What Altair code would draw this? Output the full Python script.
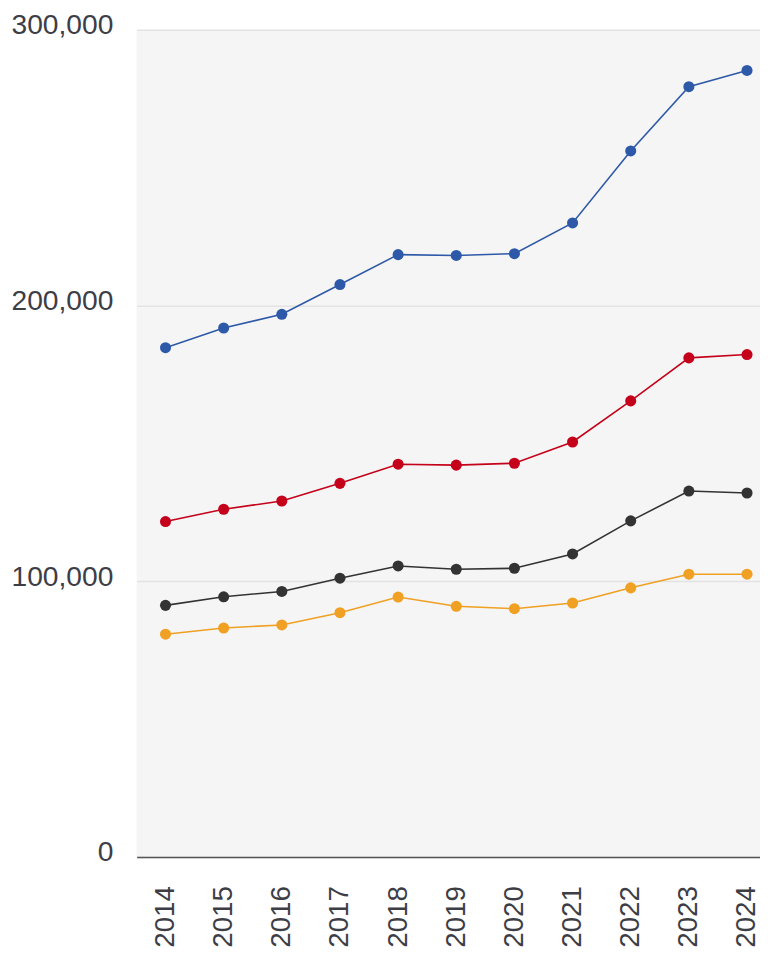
import altair as alt
import pandas as pd

years = ["2014", "2015", "2016", "2017", "2018", "2019", "2020", "2021", "2022", "2023", "2024"]
series_names = ["A", "B", "C", "D"]
series_colors = ["#2e59a8", "#c4001a", "#333333", "#f0a023"]

blue_vals = [184700, 191850, 196800, 207600, 218450, 218150, 218800, 229950, 256050, 279350, 285250]
red_vals = [121650, 126100, 129100, 135500, 142450, 142100, 142800, 150500, 165400, 181000, 182200]
black_vals = [91250, 94350, 96300, 101100, 105550, 104350, 104700, 109900, 121900, 132700, 132000]
orange_vals = [80800, 83050, 84150, 88600, 94250, 90900, 90050, 92100, 97600, 102550, 102550]

all_vals = [blue_vals, red_vals, black_vals, orange_vals]
rows = []
for name, vals in zip(series_names, all_vals):
    for y, v in zip(years, vals):
        rows.append({"year": y, "value": v, "series": name})
df = pd.DataFrame(rows)

label_color = "#3d3d46"
font = "Liberation Sans"

base = alt.Chart(df).encode(
    x=alt.X(
        "year:O",
        sort=years,
        scale=alt.Scale(type="point", padding=0.36, align=0.69),
        axis=alt.Axis(
            title=None,
            labelAngle=-90,
            labelFontSize=28,
            labelFont=font,
            labelColor=label_color,
            labelPadding=29,
            ticks=False,
            grid=False,
            domain=True,
            domainColor="#555555",
            domainWidth=1.5,
        ),
    ),
    y=alt.Y(
        "value:Q",
        scale=alt.Scale(domain=[0, 300000], nice=False, zero=True),
        axis=alt.Axis(
            title=None,
            values=[0, 100000, 200000, 300000],
            format=",.0f",
            labelFontSize=28.5,
            labelFont=font,
            labelColor=label_color,
            labelPadding=24,
            labelOffset=-5,
            ticks=False,
            domain=False,
            grid=True,
            gridColor="#e3e3e3",
            gridWidth=1.5,
        ),
    ),
    color=alt.Color(
        "series:N",
        scale=alt.Scale(domain=series_names, range=series_colors),
        legend=None,
    ),
    detail="series:N",
)

lines = base.mark_line(strokeWidth=1.6)
points = base.mark_point(filled=True, size=125, opacity=1)

chart = (
    alt.layer(lines, points)
    .properties(
        width=760,
        height=940,
        background="white",
        padding={"left": 2, "top": -2, "right": 0, "bottom": -5},
        autosize=alt.AutoSizeParams(type="fit", contains="padding"),
    )
    .configure_view(fill="#f5f5f5", stroke=None)
)

chart.save("out.html", embed_options={"renderer": "svg", "actions": False})
